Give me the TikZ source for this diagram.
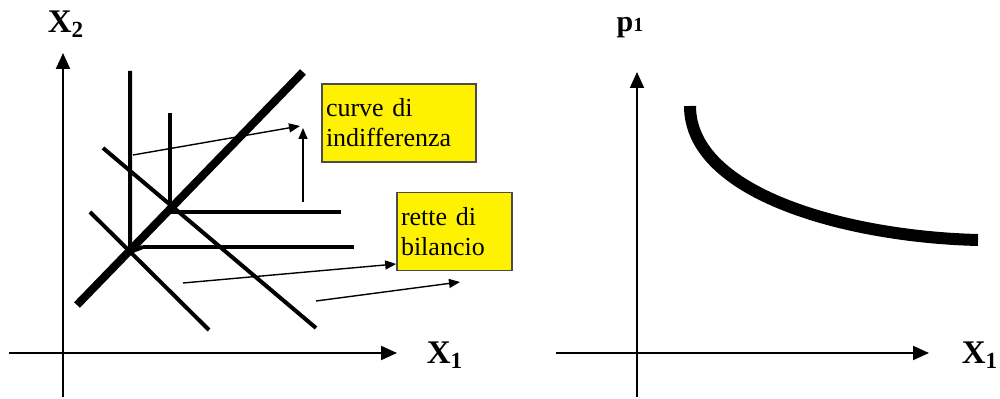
\documentclass[tikz,border=0pt]{standalone}
\usepackage{fontspec}
\setmainfont{Liberation Serif}
\usetikzlibrary{arrows.meta}

\begin{document}
\begin{tikzpicture}[x=0.5pt,y=-0.5pt,
  axis/.style={line width=1pt,-{Triangle[length=8pt,width=7pt]}},
  pointer/.style={line width=0.7pt,-{Triangle[length=5.5pt,width=4.5pt]}},
  curve/.style={line width=2pt},
  labelbox/.style={draw=black!70,line width=0.8pt,fill=yellow,align=left,
    inner xsep=2pt,minimum height=39pt,font=\fontsize{13}{15}\selectfont},
  axislabel/.style={font=\fontsize{16.5}{18}\selectfont\bfseries}]
\useasboundingbox (0,0) rectangle (1000,399);

% left: indifference curves and budget lines
\coordinate (o1) at (63,353);
\draw[line width=1pt] (63,397) -- (o1);
\draw[axis] (o1) -- (63,53);
\draw[line width=1pt] (9,353) -- (o1);
\draw[axis] (o1) -- (397,353);
\node[axislabel] (x2) at (66,24) {X\textsubscript{2}};
\node[axislabel] (x1a) at (445,355) {X\textsubscript{1}};

\draw[curve] (130,71) -- (130,252) -- (143,247);
\draw[curve] (143,247) -- (354,247);
\draw[curve] (170,113) -- (170,212) -- (341,212);
\draw[line width=4pt] (77,305) -- (303,72);
\draw[curve] (90,212) -- (209,330);
\draw[curve] (103,148) -- (316,328);

\node[labelbox,text width=73pt] (b1) at (399,123) {curve di\\indifferenza};
\node[labelbox,text width=53.5pt] (b2) at (454.5,231.5) {rette di\\bilancio};

\coordinate (c1) at (133,155);
\coordinate (c2) at (300,126);
\coordinate (c3) at (303,202);
\coordinate (c4) at (303,128);
\coordinate (r1) at (183,283);
\coordinate (r2) at (b2.west |- 0,264);
\coordinate (r3) at (316,301);
\coordinate (r4) at (460,282);
\draw[pointer] (c1) -- (c2);
\draw[pointer] (c3) -- (c4);
\draw[pointer] (r1) -- (r2);
\draw[pointer] (r3) -- (r4);

% right: demand curve
\coordinate (o2) at (637,353);
\draw[line width=1pt] (637,397) -- (o2);
\draw[axis] (o2) -- (637,72);
\draw[line width=1pt] (556,353) -- (o2);
\draw[axis] (o2) -- (929,353);
\node[font=\fontsize{15}{17}\selectfont\bfseries] (p1) at (630,28) {p{\fontsize{10}{11}\selectfont 1}};
\node[axislabel] (x1b) at (980,355) {X\textsubscript{1}};

\draw[line width=6pt] (690,106) .. controls (690,195) and (850,237) .. (978,240);
\end{tikzpicture}
\end{document}
